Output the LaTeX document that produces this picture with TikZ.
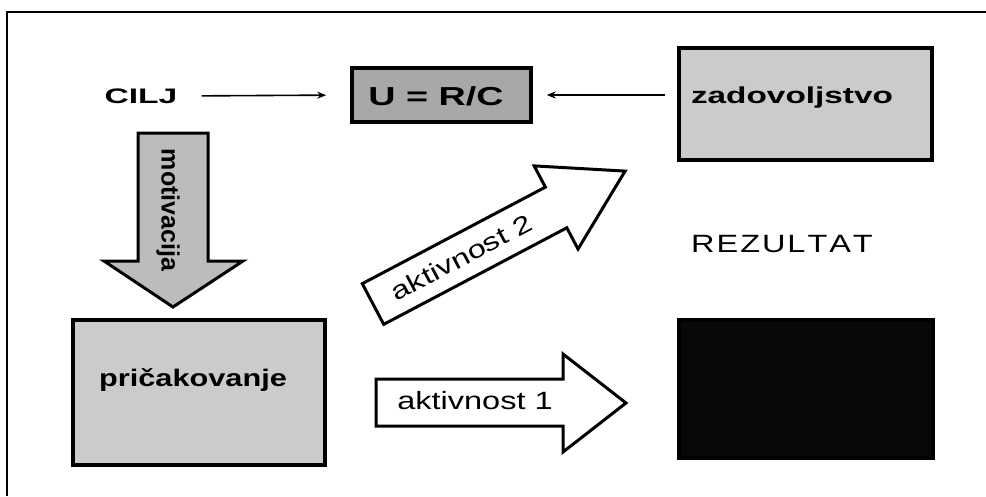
\documentclass[tikz,border=0pt]{standalone}
\usepackage{fontspec}
\usepackage{graphicx}
\usetikzlibrary{arrows.meta}
\setmainfont{Liberation Sans}
\newcommand\sx[2]{\scalebox{#1}[1]{#2}}
\definecolor{lgray}{HTML}{CBCBCB}
\definecolor{ugray}{HTML}{A8A8A8}
\definecolor{mgray}{HTML}{BCBCBC}
\definecolor{nblack}{HTML}{080808}
\tikzset{
  gbox/.style={draw=black, line width=3.5pt, inner sep=0pt},
  conn/.style={draw=black, line width=1.6pt, -{Stealth[length=9pt,width=7pt]}},
  bigarrow/.style={draw=black, line width=3pt, line join=miter},
  boldlbl/.style={font=\bfseries\fontsize{23}{26}\selectfont, inner sep=0pt},
  actlbl/.style={font=\fontsize{25}{27}\selectfont, inner sep=0pt}
}
\begin{document}
\begin{tikzpicture}[x=1pt,y=-1pt]
\useasboundingbox (0,0) rectangle (986,496);
% frame
\draw[line width=2.5pt] (986,12) -- (7,12) -- (7,496);

% boxes
\node[gbox, fill=ugray, minimum width=179pt, minimum height=54pt] (u) at (441.5,95) {};
\node[boldlbl, font=\bfseries\fontsize{26}{28}\selectfont] (ut) at (436,96) {\sx{1.45}{U = R/C}};
\node[gbox, fill=lgray, minimum width=253pt, minimum height=112pt] (zad) at (805.5,104) {};
\node[boldlbl] (zadt) at (792,98) {\sx{1.45}{zadovoljstvo}};
\node[gbox, fill=lgray, minimum width=252pt, minimum height=145pt] (pric) at (199,392.5) {};
\node[boldlbl, font=\bfseries\fontsize{24}{26}\selectfont] (prict) at (193,380) {\sx{1.28}{pričakovanje}};
\node[gbox, fill=nblack, minimum width=254pt, minimum height=138pt] (res) at (806,389) {};

% texts
\node[boldlbl, font=\bfseries\fontsize{21}{24}\selectfont] (cilj) at (141,96) {\sx{1.6}{CILJ}};
\node[font=\fontsize{25}{27}\selectfont, inner sep=0pt] (rez) at (782,244) {\sx{1.3}{R\kern1.5pt E\kern1.5pt Z\kern1.5pt U\kern1.5pt L\kern1.5pt T\kern1.5pt A\kern1.5pt T}};

% connectors
\draw[conn, shorten <=24pt, shorten >=24pt] (cilj.east) -- (u.west);
\draw[conn, shorten <=12pt, shorten >=14pt] (zad.west |- u.east) -- (u.east);

% motivacija arrow
\draw[bigarrow, fill=mgray] (138,133) -- (208,133) -- (208,261) -- (243,261) -- (173,307)
  -- (104,261) -- (138,261) -- cycle;
\node[rotate=-90, font=\bfseries\fontsize{25}{27}\selectfont, inner sep=0pt] (motiv) at (168,210) {motivacija};

% aktivnost 1 arrow
\draw[bigarrow, fill=white] (376,379) -- (563,379) -- (563,354) -- (626,403) -- (563,452)
  -- (563,426) -- (376,426) -- cycle;
\node[actlbl] (akt1) at (475,401) {\sx{1.3}{aktivnost 1}};

% aktivnost 2 arrow
\begin{scope}[shift={(373,304)}, rotate=27.8]
  \draw[bigarrow, fill=white] (0,-23) -- (207,-23) -- (207,-47) -- (285,0) -- (207,47)
    -- (207,23) -- (0,23) -- cycle;
  \node[actlbl, transform shape] (akt2) at (100,0) {\sx{1.3}{aktivnost 2}};
\end{scope}
\end{tikzpicture}
\end{document}
